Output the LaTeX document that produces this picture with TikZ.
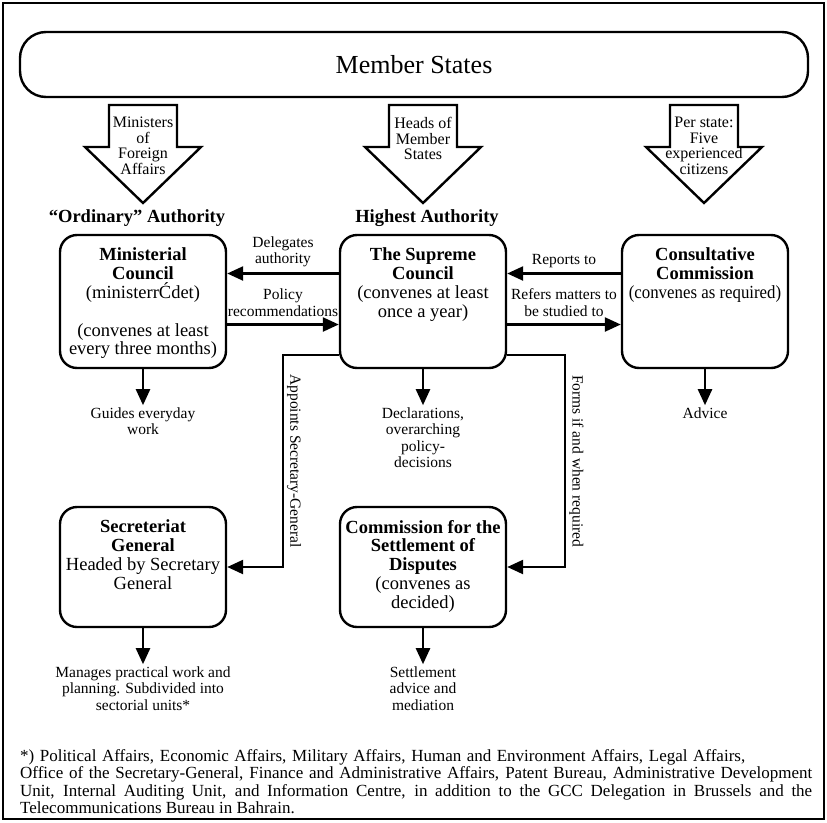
\documentclass[tikz,border=0pt]{standalone}
\usepackage{fontspec}
\setmainfont{Liberation Serif}
\usetikzlibrary{arrows.meta,positioning,calc}

% box contents sit at the top of a fixed-size box
\newcommand{\orgtext}[3]{\parbox[c][#1][t]{#2}{\centering\vspace*{13pt}#3}}

\tikzset{
  orgbox/.style={draw, line width=2.4pt, rounded corners=17pt, inner sep=0pt, fill=white,
    font=\fontsize{18.5}{18.8}\selectfont},
  conn/.style={line width=2.4pt, -{Triangle[length=16pt,width=14pt]}},
  bigarrow/.style={draw, line width=2.4pt, fill=white, line join=miter},
  lbl/.style={align=center, inner sep=2pt, font=\fontsize{15.5}{16.5}\selectfont},
  arrowtext/.style={align=center, inner sep=1pt, font=\fontsize{16}{15.6}\selectfont},
  hdr/.style={inner sep=0pt, font=\fontsize{18.5}{20}\selectfont\bfseries},
}

\begin{document}
\begin{tikzpicture}[x=1pt, y=-1pt]
\useasboundingbox (0,0) rectangle (827,822);
\draw[line width=2pt] (3,3) rectangle (824,819);

% Member States
\node[orgbox, rounded corners=26pt, minimum width=788pt, minimum height=65pt,
  font=\fontsize{26}{28}\selectfont] (ms) at (414,64.5) {Member States};

% block arrows out of Member States
\foreach \cx/\nm/\txt in {143/mfa/{Ministers\\of\\Foreign\\Affairs},
    423/heads/{Heads of\\Member\\States},
    704/perstate/{Per state:\\Five\\experienced\\citizens}} {
  \draw[bigarrow] (\cx-34,105) -- (\cx+34,105) -- (\cx+34,147) -- (\cx+58,147)
    -- (\cx,203) -- (\cx-58,147) -- (\cx-34,147) -- cycle;
  \node[arrowtext, anchor=north] (\nm) at (\cx,116) {\txt};
}

% headings
\node[hdr] (ordauth) at (137,218) {“Ordinary” Authority};
\node[hdr] (highauth) at (427,218) {Highest Authority};

% upper row
\node[orgbox] (min) at (143,301.5) {\orgtext{133pt}{166pt}{%
  \textbf{Ministerial}\\ \textbf{Council}\\ (ministerrĆdet)\\[18.8pt]
  (convenes at least\\ every three months)}};
\node[orgbox] (sup) at (423,301.5) {\orgtext{133pt}{166pt}{%
  \textbf{The Supreme}\\ \textbf{Council}\\ (convenes at least\\ once a year)}};
\node[orgbox] (con) at (705,301.5) {\orgtext{133pt}{166pt}{%
  \textbf{Consultative}\\ \textbf{Commission}\\ \scalebox{0.91}[1]{(convenes as required)}}};

% lower row
\node[orgbox] (sec) at (143,567) {\orgtext{120pt}{166pt}{%
  \textbf{Secreteriat}\\ \textbf{General}\\ Headed by Secretary\\ General}};
\node[orgbox] (com) at (423,567) {\orgtext{120pt}{166pt}{%
  \textbf{Commission for the}\\ \textbf{Settlement of}\\ \textbf{Disputes}\\
  (convenes as\\ decided)}};

% between the councils
\draw[conn] ([yshift=28pt]sup.west) -- ([yshift=28pt]min.east)
  node[midway, lbl, above=3pt] (deleg) {Delegates\\authority};
\draw[conn] ([yshift=-23pt]min.east) -- ([yshift=-23pt]sup.west)
  node[midway, lbl, above=5pt] (policy) {Policy\\recommendations};
\draw[conn] ([yshift=28pt]con.west) -- ([yshift=28pt]sup.east)
  node[midway, lbl, above=3pt] (reports) {Reports to};
\draw[conn] ([yshift=-23pt]sup.east) -- ([yshift=-23pt]con.west)
  node[midway, lbl, above=5pt] (refers) {Refers matters to\\be studied to};

% down to the lower row
\draw[conn] ([yshift=14pt]sup.south west) -- ++(-56,0) |- (sec.east)
  node[pos=0.25, lbl, rotate=-90, anchor=south, inner sep=3pt] (appoints) {Appoints Secretary-General};
\draw[conn] ([yshift=14pt]sup.south east) -- ++(58,0) |- (com.east)
  node[pos=0.25, lbl, rotate=-90, anchor=south, inner sep=3pt] (forms) {Forms if and when required};

% results
\node[lbl, below=36pt of min] (guides) {Guides everyday\\work};
\node[lbl, below=36pt of sup] (decl) {Declarations,\\overarching\\policy-\\decisions};
\node[lbl, below=36pt of con] (advice) {Advice};
\node[lbl, below=36pt of sec] (manages) {Manages practical work and\\planning. Subdivided into\\sectorial units*};
\node[lbl, below=36pt of com] (settle) {Settlement\\advice and\\mediation};
\draw[conn] (min.south) -- (guides.north);
\draw[conn] (sup.south) -- (decl.north);
\draw[conn] (con.south) -- (advice.north);
\draw[conn] (sec.south) -- (manages.north);
\draw[conn] (com.south) -- (settle.north);

% footnote
\node[anchor=north west, align=left, inner sep=0pt, font=\fontsize{17}{17.5}\selectfont] (note) at (20,749) {%
  \makebox[725pt][s]{*) Political Affairs, Economic Affairs, Military Affairs, Human and Environment Affairs, Legal Affairs,}\\
  \makebox[792pt][s]{Office of the Secretary-General, Finance and Administrative Affairs, Patent Bureau, Administrative Development}\\
  \makebox[792pt][s]{Unit, Internal Auditing Unit, and Information Centre, in addition to the GCC Delegation in Brussels and the}\\
  Telecommunications Bureau in Bahrain.};
\end{tikzpicture}
\end{document}
